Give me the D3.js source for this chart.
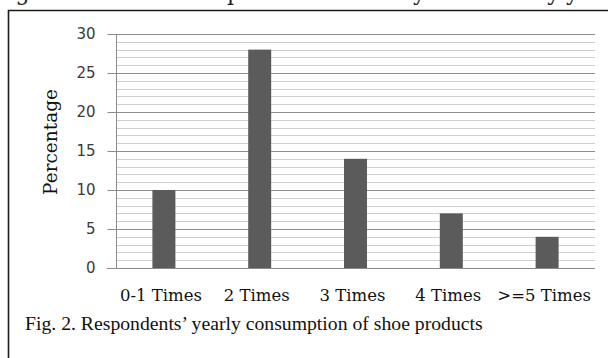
<!DOCTYPE html>
<html>
<head>
<meta charset="utf-8">
<script src="https://cdn.jsdelivr.net/npm/d3@7/dist/d3.min.js"></script>
<style>
  html, body { margin: 0; padding: 0; background: #fff; }
  svg { display: block; }
</style>
</head>
<body>
<svg id="chart" width="608" height="358"></svg>
<script>
// Yearly shoe purchase frequency of respondents
const categories = ["0-1 Times", "2 Times", "3 Times", "4 Times", ">=5 Times"];
const percentages = [10, 28, 14, 7, 4];
const yTicks = [0, 5, 10, 15, 20, 25, 30];
const yTitle = "Percentage";
const caption = "Fig. 2. Respondents\u2019 yearly consumption of shoe products";
const headerLine = "Fig. 1. Number of respondents who buy shoes every year";

const W = 608, H = 358;
const svg = d3.select("#chart");

const plot = { left: 116, right: 595, top: 34, bottom: 268 };

const x = d3.scaleBand()
  .domain(categories)
  .range([plot.left, plot.right])
  .paddingInner(0.76)
  .paddingOuter(0.38);

const y = d3.scaleLinear()
  .domain([0, 30])
  .range([plot.bottom, plot.top]);

// tail of the preceding page line, running off the top edge
svg.append("text")
  .attr("x", -6).attr("y", -0.5)
  .attr("font-family", "DejaVu Serif")
  .attr("font-size", 22)
  .attr("fill", "#222")
  .attr("textLength", 620)
  .attr("lengthAdjust", "spacing")
  .text(headerLine);

// white box behind the figure, framed on top and left
svg.append("rect")
  .attr("x", 8.5).attr("y", 10.5)
  .attr("width", W).attr("height", H)
  .attr("fill", "#fff");
svg.append("path")
  .attr("d", `M8.5,${H} V10.5 H${W}`)
  .attr("fill", "none")
  .attr("stroke", "#1a1a1a")
  .attr("stroke-width", 1.6);

// gridlines: every unit, darker every 5
const gridVals = d3.range(1, 31);
svg.append("g")
  .selectAll("line")
  .data(gridVals)
  .join("line")
  .attr("x1", plot.left).attr("x2", plot.right)
  .attr("y1", d => Math.round(y(d)) + 0.5)
  .attr("y2", d => Math.round(y(d)) + 0.5)
  .attr("stroke", d => d % 5 === 0 ? "#8e8e8e" : "#cfcfcf")
  .attr("stroke-width", 1);

// bars
svg.append("g")
  .selectAll("rect")
  .data(categories)
  .join("rect")
  .attr("x", d => x(d))
  .attr("width", x.bandwidth())
  .attr("y", (d, i) => y(percentages[i]))
  .attr("height", (d, i) => y(0) - y(percentages[i]))
  .attr("fill", "#5b5b5b");

// y axis
const yAxis = d3.axisLeft(y)
  .tickValues(yTicks)
  .tickSize(9)
  .tickPadding(12)
  .tickFormat(d3.format("d"));
const gy = svg.append("g")
  .attr("transform", `translate(${plot.left + 0.5},0)`)
  .call(yAxis);
gy.select(".domain").attr("stroke", "#8a8a8a").attr("d", `M0,${plot.top}V${plot.bottom}`);
gy.selectAll(".tick line").attr("stroke", "#8a8a8a");
gy.selectAll(".tick text")
  .attr("font-family", "DejaVu Sans")
  .attr("font-size", 15)
  .attr("fill", "#3a3a3a");

// x axis baseline
svg.append("line")
  .attr("x1", plot.left - 9).attr("x2", plot.right)
  .attr("y1", y(0) + 0.5).attr("y2", y(0) + 0.5)
  .attr("stroke", "#8a8a8a");

// category labels
const xAxis = d3.axisBottom(x).tickSize(0).tickPadding(0);
const gx = svg.append("g")
  .attr("transform", `translate(0,${plot.bottom})`)
  .call(xAxis);
gx.select(".domain").remove();
gx.selectAll(".tick text")
  .attr("dy", 0)
  .attr("y", 33)
  .attr("x", -3)
  .attr("font-family", "DejaVu Serif")
  .attr("font-size", 16.5)
  .attr("fill", "#111");

// y title
svg.append("text")
  .attr("transform", "translate(57,142) rotate(-90)")
  .attr("text-anchor", "middle")
  .attr("font-family", "DejaVu Serif")
  .attr("font-size", 18.5)
  .attr("fill", "#111")
  .text(yTitle);

// caption
const cap = svg.append("text")
  .attr("x", 25).attr("y", 330)
  .attr("font-family", "Liberation Serif")
  .attr("font-size", 20)
  .attr("fill", "#111")
  .text(caption);
const target = 458;
const len = cap.node().getComputedTextLength();
cap.attr("font-size", 20 * target / len);
</script>
</body>
</html>
